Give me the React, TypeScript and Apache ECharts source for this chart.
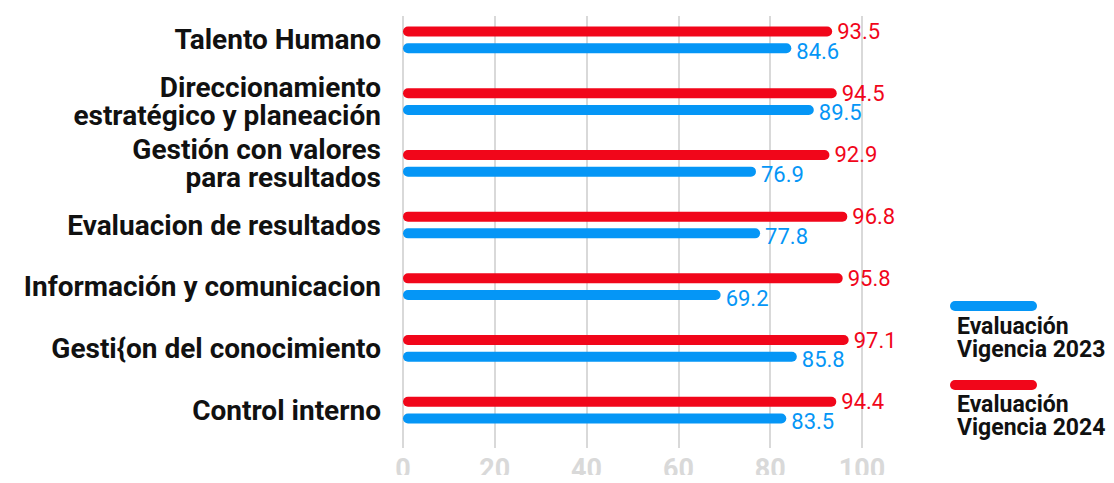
import React, { useEffect, useRef } from "react";
import * as echarts from "echarts";

const categories = [
  "Talento Humano",
  "Direccionamiento\nestratégico y planeación",
  "Gestión con valores\npara resultados",
  "Evaluacion de resultados",
  "Información y comunicacion",
  "Gesti{on del conocimiento",
  "Control interno",
];
const values2024 = [93.5, 94.5, 92.9, 96.8, 95.8, 97.1, 94.4];
const values2023 = [84.6, 89.5, 76.9, 77.8, 69.2, 85.8, 83.5];
const seriesNames = ["Evaluación\nVigencia 2024", "Evaluación\nVigencia 2023"];
const xTicks = { min: 0, max: 100, interval: 20 };

const RED = "#f1061a";
const BLUE = "#0596f6";

export default function App() {
  const ref = useRef<HTMLDivElement>(null);
  useEffect(() => {
    if (!ref.current) return;
    const chart = echarts.init(ref.current, null, { renderer: "svg" });
    const font = "Roboto";
    chart.setOption({
      animation: false,
      grid: [
        { left: 403, right: 252, top: 16, bottom: 35, containLabel: false },
        { left: 403, right: 252, top: 9, bottom: 42, containLabel: false },
      ],
      xAxis: [
        {
          type: "value",
          gridIndex: 0,
          min: xTicks.min,
          max: xTicks.max,
          interval: xTicks.interval,
          axisLine: { show: false },
          axisTick: { show: false },
          splitLine: { show: true, lineStyle: { color: "#d9d9d9", width: 2 } },
          axisLabel: {
            color: "#d9d9d9",
            fontSize: 27,
            fontFamily: font,
            fontWeight: "bold",
            margin: 7,
          },
        },
        {
          type: "value",
          gridIndex: 1,
          min: xTicks.min,
          max: xTicks.max,
          interval: xTicks.interval,
          show: false,
          splitLine: { show: false },
        },
      ],
      yAxis: [
        {
          type: "category",
          gridIndex: 0,
          data: categories,
          show: false,
        },
        {
          type: "category",
          gridIndex: 1,
          data: categories,
          inverse: true,
          axisLine: { show: false },
          axisTick: { show: false },
          axisLabel: {
            color: "#111",
            fontSize: 28,
            fontFamily: font,
            fontWeight: "bold",
            lineHeight: 28,
            margin: 22,
            align: "right",
          },
        },
      ],
      series: [
        {
          name: seriesNames[0],
          type: "bar",
          xAxisIndex: 1,
          yAxisIndex: 1,
          data: values2024,
          barWidth: 10,
          barGap: "67%",
          itemStyle: { color: RED, borderRadius: 5 },
          label: {
            show: true,
            position: "right",
            distance: 5,
            color: RED,
            fontSize: 22,
            fontFamily: font,
            fontWeight: 400,
          },
        },
        {
          name: seriesNames[1],
          type: "bar",
          xAxisIndex: 1,
          yAxisIndex: 1,
          data: values2023,
          barWidth: 10,
          barGap: "67%",
          itemStyle: { color: BLUE, borderRadius: 5 },
          label: {
            show: true,
            position: "right",
            distance: 5,
            offset: [0, 3],
            color: BLUE,
            fontSize: 22,
            fontFamily: font,
            fontWeight: 400,
          },
        },
      ],
      graphic: [
        { type: "rect", shape: { x: 950, y: 301, width: 87, height: 10, r: 5 }, style: { fill: BLUE } },
        {
          type: "text",
          x: 957,
          y: 315,
          style: {
            text: seriesNames[1],
            fill: "#111",
            font: `bold 23px ${font}`,
            lineHeight: 23,
          },
        },
        { type: "rect", shape: { x: 950, y: 380, width: 87, height: 10, r: 5 }, style: { fill: RED } },
        {
          type: "text",
          x: 957,
          y: 393,
          style: {
            text: seriesNames[0],
            fill: "#111",
            font: `bold 23px ${font}`,
            lineHeight: 23,
          },
        },
      ],
    });
    return () => chart.dispose();
  }, []);
  return <div ref={ref} style={{ width: 1114, height: 483, margin: -8 }} />;
}
